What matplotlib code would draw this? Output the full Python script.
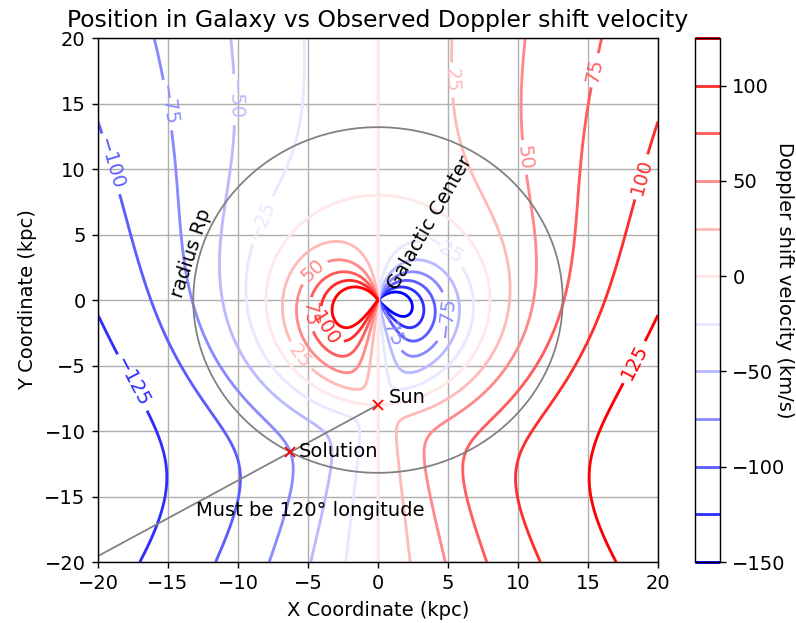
import numpy as np
import matplotlib.pyplot as plt

plt.rcParams['font.size'] = 11

# galaxy model (flat rotation curve)
R0 = 8.0          # kpc, Sun - galactic center distance
V0 = 220.0        # km/s, circular velocity
v_obs = -75.0     # km/s, observed Doppler shift
lon_deg = 120.0   # galactic longitude of the source
levels = [-150, -125, -100, -75, -50, -25, 0, 25, 50, 75, 100, 125]

# where the contour labels sit
label_pos = [(-14.9, 14.9), (-10.4, 15.3), (-18.1, 10.7), (-8.2, 6.1),
             (5.4, 16.8), (10.6, 10.9), (15.2, 17.6), (18.8, 9.4),
             (18.4, -4.8), (-17.2, -6.1), (-4.7, 2.3), (-4.9, -1.1),
             (-3.6, -2.1), (-5.6, -4.3), (4.8, 4.0), (4.8, -1.3), (0.9, -2.1)]

x = np.linspace(-20, 20, 400)
y = np.linspace(-20, 20, 400)
X, Y = np.meshgrid(x, y)
R = np.hypot(X, Y)
sinl = -X / np.hypot(X, Y + R0)
V = V0 * (R0 / R - 1) * sinl

# radius where a source at this longitude has the observed velocity
l = np.radians(lon_deg)
Rp = R0 / (1 + v_obs / (V0 * np.sin(l)))
sd = -R0 * np.cos(l)
t_sol = -sd + np.sqrt(sd**2 - R0**2 + Rp**2)
sol_x = -np.sin(l) * t_sol
sol_y = -R0 + np.cos(l) * t_sol

fig = plt.figure(figsize=(796/128, 623/128), dpi=128)
ax = fig.add_axes([0.1231, 0.0979, 0.7035, 0.8411])
cax = fig.add_axes([0.873, 0.0979, 0.0314, 0.8411])

cs = ax.contour(X, Y, V, levels=levels, cmap='bwr', linewidths=1.6)
ax.clabel(cs, inline=True, fontsize=11, manual=label_pos)

th = np.linspace(0, 2*np.pi, 400)
ax.plot(Rp*np.cos(th), Rp*np.sin(th), color='gray', lw=1)
ax.plot([0, -np.sin(l)*40], [-R0, -R0 + np.cos(l)*40], color='gray', lw=1)
ax.plot(0, -R0, 'rx')
ax.plot(sol_x, sol_y, 'rx')
ax.text(0.8, -7.9, 'Sun', fontsize=11)
ax.text(sol_x + 0.6, sol_y - 0.4, 'Solution', fontsize=11)
ax.text(-13, -16.5, 'Must be 120° longitude', fontsize=11)
ax.text(0.4, 0.5, 'Galactic Center', rotation=60, ha='left', va='bottom', fontsize=11)
ax.text(-15, 0, 'radius Rp', rotation=72, ha='left', va='bottom', fontsize=11)

ax.set_xlim(-20, 20)
ax.set_ylim(-20, 20)
ax.grid(True)
ax.set_xlabel('X Coordinate (kpc)')
ax.set_ylabel('Y Coordinate (kpc)')
ax.set_title('Position in Galaxy vs Observed Doppler shift velocity', fontsize=13.2)

cbar = fig.colorbar(cs, cax=cax)
fig.text(0.986, 0.55, 'Doppler shift velocity (km/s)', rotation=270,
         ha='center', va='center')

fig.savefig('out.png', dpi=128)
